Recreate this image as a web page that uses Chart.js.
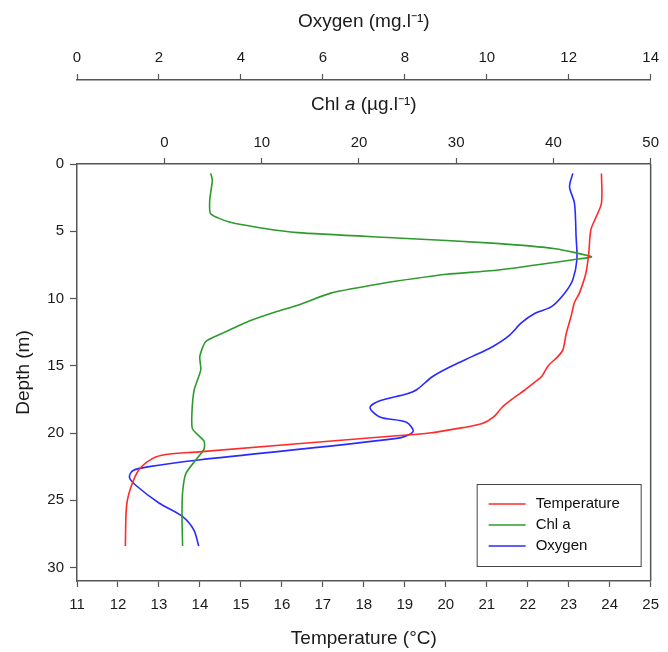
<!DOCTYPE html>
<html>
<head>
<meta charset="utf-8">
<script src="https://cdn.jsdelivr.net/npm/chart.js@4.4.1/dist/chart.umd.min.js"></script>
<style>
  html, body { margin: 0; padding: 0; background: #fff; }
</style>
</head>
<body>
<canvas id="chart" width="668" height="652"></canvas>
<script>
// Profile readings (depth in m)
const tempDepth  = [0.7, 2.9, 4.0, 4.9, 6.6, 8.1, 9.6, 10.3, 11.3, 12.6, 13.8, 14.3, 15.0, 15.8, 16.2, 16.8, 17.5, 18.1, 18.8, 19.3, 19.6, 20.0, 20.2, 21.4, 21.6, 21.9, 22.7, 24.0, 25.4, 28.4];
const tempValues = [23.8, 23.8, 23.66, 23.54, 23.49, 23.42, 23.26, 23.14, 23.06, 22.94, 22.86, 22.74, 22.5, 22.34, 22.18, 21.93, 21.61, 21.37, 21.17, 20.89, 20.41, 19.6, 18.8, 13.97, 13.17, 12.84, 12.52, 12.32, 12.21, 12.18];

const chlDepth  = [0.7, 1.2, 2.7, 3.7, 4.3, 4.8, 5.1, 5.5, 5.9, 6.3, 6.9, 7.1, 7.9, 8.2, 8.7, 8.9, 9.6, 10.5, 11.0, 11.7, 12.6, 13.2, 14.3, 15.3, 16.8, 18.5, 19.7, 20.6, 21.2, 22.0, 23.0, 24.4, 26.2, 28.4];
const chlValues = [4.75, 4.92, 4.65, 4.75, 6.6, 10.3, 13.7, 23.9, 34.1, 40.2, 43.9, 42.2, 34.1, 29.0, 23.9, 22.2, 17.1, 13.7, 11.4, 8.6, 5.9, 4.24, 3.63, 3.73, 3.05, 2.82, 2.88, 4.07, 4.07, 3.22, 2.2, 1.86, 1.8, 1.86];

const oxyDepth  = [0.7, 1.7, 2.9, 5.4, 7.1, 8.6, 9.6, 10.6, 11.1, 11.8, 12.8, 13.6, 14.3, 15.0, 15.8, 16.8, 17.1, 17.6, 18.1, 18.8, 19.2, 19.9, 20.4, 22.0, 22.5, 22.8, 23.3, 23.9, 25.2, 26.2, 27.2, 28.4];
const oxyValues = [12.1, 12.02, 12.14, 12.18, 12.2, 12.1, 11.9, 11.58, 11.18, 10.85, 10.53, 10.13, 9.65, 9.16, 8.68, 8.28, 8.04, 7.39, 7.15, 7.39, 8.04, 8.2, 7.8, 2.97, 1.76, 1.36, 1.28, 1.44, 2.0, 2.57, 2.85, 2.97];

const tempTicks  = [11, 12, 13, 14, 15, 16, 17, 18, 19, 20, 21, 22, 23, 24, 25];
const chlTicks   = [0, 10, 20, 30, 40, 50];
const oxyTicks   = [0, 2, 4, 6, 8, 10, 12, 14];
const depthTicks = [0, 5, 10, 15, 20, 25, 30];

const seriesNames = ['Temperature', 'Chl a', 'Oxygen'];

const FONT = '"Liberation Sans", Arial, sans-serif';
const AXIS = '#555';
const TEXT = '#1a1a1a';

function pairs(xs, ys) {
    return ys.map((d, i) => ({ x: xs[i], y: d }));
}

function fixedTicks(list) {
    return scale => { scale.ticks = list.map(v => ({ value: v })); };
}

const tickFont = { family: FONT, size: 15 };
const titleFont = { family: FONT, size: 19 };

function axisBase(ticks, pad) {
    return {
        type: 'linear',
        afterBuildTicks: fixedTicks(ticks),
        grid: { drawOnChartArea: false, drawTicks: true, tickLength: 6, color: AXIS, tickWidth: 1.2 },
        border: { display: true, color: AXIS, width: 1.5 },
        ticks: { font: tickFont, color: TEXT, maxRotation: 0, autoSkip: false, padding: pad },
    };
}

// Rahmen rechts + Chl-Titel mit kursivem "a"
const framePlugin = {
    id: 'frame',
    afterDraw(chart) {
        const { ctx, chartArea } = chart;
        ctx.save();
        ctx.strokeStyle = AXIS;
        ctx.lineWidth = 1.5;
        ctx.beginPath();
        ctx.moveTo(chartArea.right, chartArea.top);
        ctx.lineTo(chartArea.right, chartArea.bottom);
        ctx.stroke();

        const parts = [
            { t: 'Chl ', f: '19px ' + FONT },
            { t: 'a', f: 'italic 19px ' + FONT },
            { t: ' (µg.l⁻¹)', f: '19px ' + FONT },
        ];
        let total = 0;
        parts.forEach(p => { ctx.font = p.f; p.w = ctx.measureText(p.t).width; total += p.w; });
        let x = (chartArea.left + chartArea.right) / 2 - total / 2;
        ctx.fillStyle = TEXT;
        ctx.textBaseline = 'middle';
        ctx.textAlign = 'left';
        parts.forEach(p => { ctx.font = p.f; ctx.fillText(p.t, x, 105); x += p.w; });
        ctx.restore();
    }
};

const boxLegend = {
    id: 'boxLegend',
    afterDraw(chart) {
        const { ctx, chartArea } = chart;
        const w = 164, h = 82;
        const left = chartArea.right - 10 - w;
        const top = chartArea.bottom - 15 - h;
        ctx.save();
        ctx.strokeStyle = '#444';
        ctx.lineWidth = 1;
        ctx.strokeRect(left + 0.5, top + 0.5, w, h);
        ctx.font = '15px ' + FONT;
        ctx.textBaseline = 'middle';
        ctx.textAlign = 'left';
        chart.data.datasets.forEach((ds, i) => {
            const y = top + 20 + i * 21;
            ctx.strokeStyle = ds.borderColor;
            ctx.lineWidth = 1.3;
            ctx.beginPath();
            ctx.moveTo(left + 12, y);
            ctx.lineTo(left + 49, y);
            ctx.stroke();
            ctx.fillStyle = '#111';
            ctx.fillText(ds.label, left + 59, y);
        });
        ctx.restore();
    }
};

new Chart(document.getElementById('chart'), {
    type: 'scatter',
    data: {
        datasets: [{
            label: seriesNames[0],
            data: pairs(tempValues, tempDepth),
            xAxisID: 'x',
            borderColor: '#ff2a2a',
            tension: 0.3,
        }, {
            label: seriesNames[1],
            data: pairs(chlValues, chlDepth),
            xAxisID: 'xChl',
            borderColor: '#2e9a2e',
            tension: 0.2,
        }, {
            label: seriesNames[2],
            data: pairs(oxyValues, oxyDepth),
            xAxisID: 'xOx',
            borderColor: '#2a2aff',
            tension: 0.3,
        }].map(ds => ({ ...ds, showLine: true, pointRadius: 0, borderWidth: 1.6, fill: false })),
    },
    options: {
        responsive: false,
        animation: false,
        devicePixelRatio: 1,
        layout: { padding: { left: 0, right: 11, top: 0, bottom: 0 } },
        plugins: { legend: { display: false }, tooltip: { enabled: false } },
        scales: {
            x: {
                ...axisBase(tempTicks, 9),
                position: 'bottom', min: 11, max: 25,
                title: { display: true, text: 'Temperature (°C)', font: titleFont, color: TEXT, padding: { top: 0, bottom: 2 } },
                afterFit: s => { s.height = 71; },
            },
            xChl: {
                ...axisBase(chlTicks, 6),
                position: 'top', min: -9, max: 50, weight: 0,
                afterFit: s => { s.height = 84; },
            },
            xOx: {
                ...axisBase(oxyTicks, 7),
                position: 'top', min: 0, max: 14, weight: 5,
                title: { display: true, text: 'Oxygen (mg.l⁻¹)', font: titleFont, color: TEXT, padding: { top: 10, bottom: 0 } },
                afterFit: s => { s.height = 80; },
            },
            y: {
                ...axisBase(depthTicks, 6),
                position: 'left', reverse: true, min: 0, max: 31,
                grid: { ...axisBase(depthTicks, 6).grid, tickLength: 7 },
                title: { display: true, text: 'Depth (m)', font: titleFont, color: TEXT, padding: { top: 12, bottom: 0 } },
                afterFit: s => { s.width = 77; },
            },
        },
    },
    plugins: [framePlugin, boxLegend],
});
</script>
</body>
</html>
